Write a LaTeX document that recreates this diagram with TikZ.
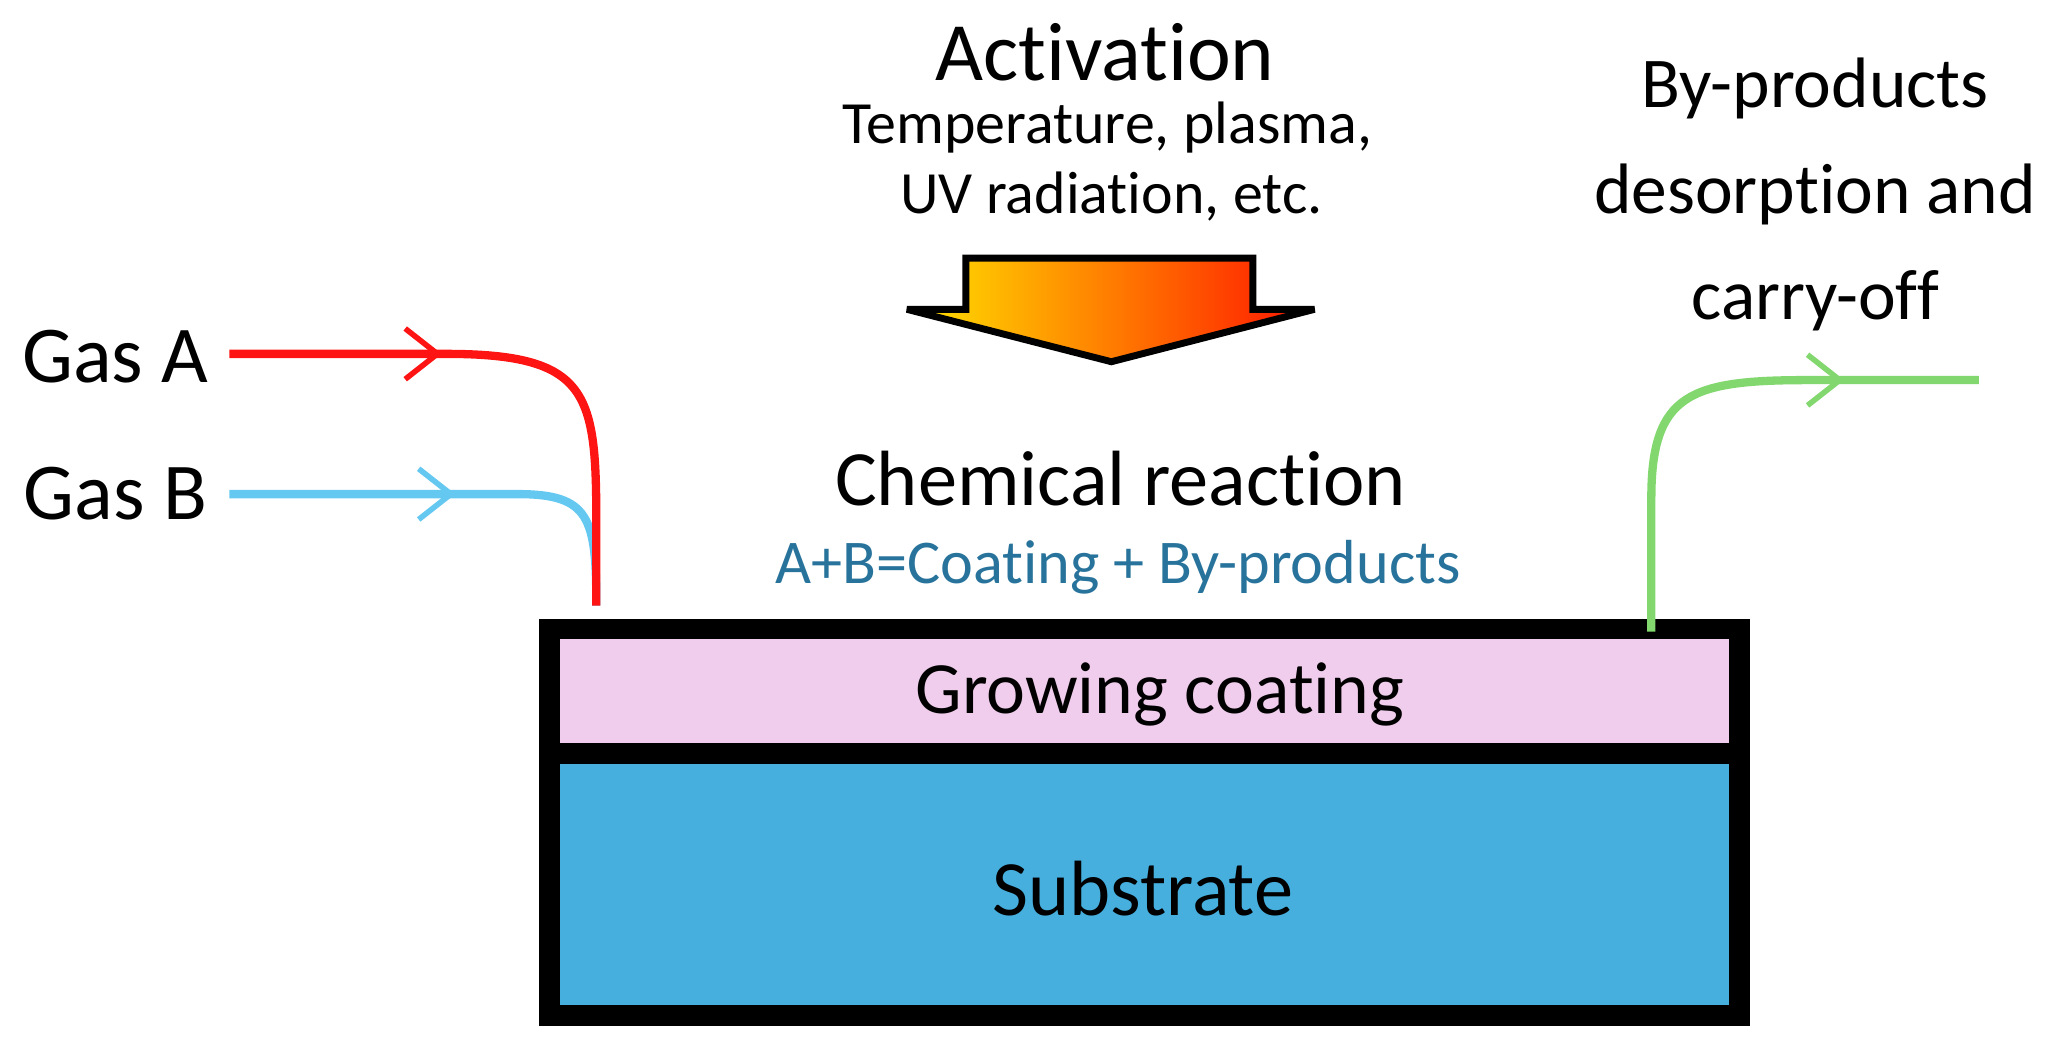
\documentclass[tikz,border=0pt]{standalone}
\usepackage{fontspec}
\setmainfont[Ligatures=NoCommon]{Carlito}
\usetikzlibrary{arrows.meta,decorations.markings,shadings}
\definecolor{gasA}{RGB}{255,20,20}
\definecolor{gasB}{RGB}{100,200,240}
\definecolor{bp}{RGB}{130,215,110}
\definecolor{coat}{RGB}{240,205,236}
\definecolor{sub}{RGB}{70,175,222}
\definecolor{eq}{RGB}{40,115,155}
\begin{document}
\begin{tikzpicture}[x=0.01cm,y=-0.01cm,
  lbl/.style={inner sep=0pt,align=center},
  flow/.style={line width=1.8pt,postaction={decorate}},
  mark/.style={decoration={markings,mark=at position #1 with {\arrow{Straight Barb[length=7pt,width=11pt,line width=1.2pt]}}}}]
\useasboundingbox (0,0) rectangle (1568,796);
% layers
\path[draw=black,line width=4.5pt,fill=coat] (419,480) rectangle (1327,575);
\path[draw=black,line width=4.5pt,fill=sub] (419,575) rectangle (1327,775);
\node[lbl,font=\fontsize{16}{18}\selectfont] (gc) at (885,530) {Growing coating};
\node[lbl,font=\fontsize{17}{19}\selectfont] (sb) at (872,678) {Substrate};
% activation
\node[lbl,font=\fontsize{18}{20}\selectfont] (act) at (843,40) {Activation};
\node[lbl,font=\fontsize{13}{16}\selectfont] (actd1) at (845,97) {Temperature, plasma,};
\node[lbl,font=\fontsize{13}{16}\selectfont] (actd2) at (848,150) {UV radiation, etc.};
\shade[left color=yellow!80!orange,right color=red!85!orange,draw=black,line width=1.5pt,miter limit=2]
  (737,197) -- (956,197) -- (956,236) -- (1003,236) -- (848,276) -- (692,236) -- (737,236) -- cycle;
\node[lbl,font=\fontsize{17}{19}\selectfont] (cr) at (855,365) {Chemical reaction};
\node[lbl,font=\fontsize{13.5}{16}\selectfont,text=eq] (eqn) at (853,433) {A+B=Coating + By-products};
\node[lbl,font=\fontsize{15.5}{23}\selectfont] (bpt) at (1385,148) {By-products\\desorption and\\carry-off};
% gases
\node[lbl,font=\fontsize{17.5}{19}\selectfont] (ga) at (88,272) {Gas A};
\node[lbl,font=\fontsize{17.5}{19}\selectfont] (gb) at (88,377) {Gas B};
\coordinate (ga0) at (175,270);
\coordinate (gb0) at (175,377);
\coordinate (s) at (455,462);
\coordinate (g0) at (1260,482);
\coordinate (g1) at (1510,290);
\draw[gasB,flow,mark=0.5] (gb0) -- (395,377) .. controls (450,377) and (455,395) .. (s);
\draw[gasA,flow,mark=0.37] (ga0) -- (340,270) .. controls (450,270) and (455,300) .. (455,400) -- (s);
\draw[bp,flow,mark=0.75] (g0) -- (1260,380) .. controls (1260,300) and (1290,290) .. (1380,290) -- (g1);
\end{tikzpicture}
\end{document}
